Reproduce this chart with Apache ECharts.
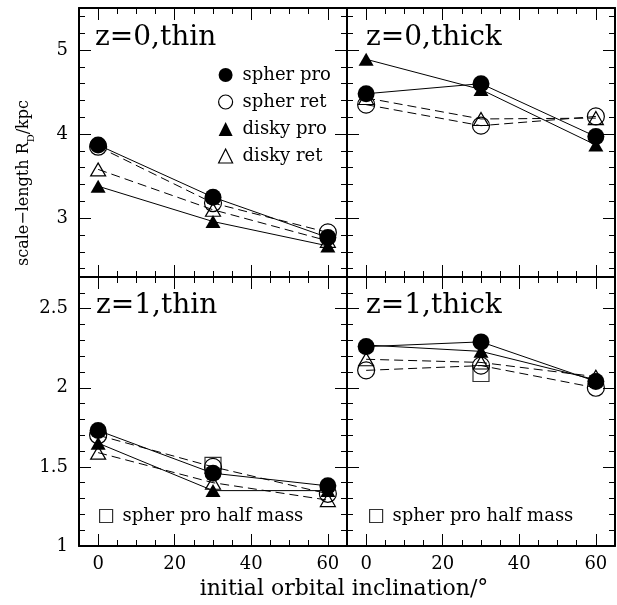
<!DOCTYPE html>
<html><head><meta charset="utf-8">
<script src="https://cdn.jsdelivr.net/npm/echarts@6/dist/echarts.min.js"></script>
<style>html,body{margin:0;padding:0;background:#fff}#c{width:617px;height:605px}</style>
</head><body><div id="c"></div>
<script>
// ---- data ----
const inclinations = [0, 30, 60];
const halfMassInclinations = [30];

const z0ThinSpherPro = [3.87, 3.25, 2.77];
const z0ThinSpherRet = [3.85, 3.18, 2.83];
const z0ThinDiskyPro = [3.38, 2.96, 2.67];
const z0ThinDiskyRet = [3.58, 3.10, 2.73];

const z0ThickSpherPro = [4.48, 4.60, 3.97];
const z0ThickSpherRet = [4.35, 4.10, 4.21];
const z0ThickDiskyPro = [4.89, 4.53, 3.87];
const z0ThickDiskyRet = [4.43, 4.18, 4.19];

const z1ThinSpherPro = [1.73, 1.46, 1.38];
const z1ThinSpherRet = [1.70, 1.50, 1.33];
const z1ThinDiskyPro = [1.65, 1.35, 1.35];
const z1ThinDiskyRet = [1.59, 1.40, 1.29];
const z1ThinHalfMass = [1.51];

const z1ThickSpherPro = [2.26, 2.29, 2.04];
const z1ThickSpherRet = [2.11, 2.14, 2.00];
const z1ThickDiskyPro = [2.27, 2.23, 2.05];
const z1ThickDiskyRet = [2.18, 2.16, 2.07];
const z1ThickHalfMass = [2.09];

const panelLabels = ['z=0,thin', 'z=0,thick', 'z=1,thin', 'z=1,thick'];
const xMajorTicks = [0, 20, 40, 60];
const xMinorTicks = [5, 10, 15, 25, 30, 35, 45, 50, 55];
const topYMajorTicks = [3, 4, 5];
const topYMinorTicks = [2.4, 2.6, 2.8, 3.2, 3.4, 3.6, 3.8, 4.2, 4.4, 4.6, 4.8, 5.2, 5.4];
const botYMajorTicks = [1, 1.5, 2, 2.5];
const botYMinorTicks = [1.1, 1.2, 1.3, 1.4, 1.6, 1.7, 1.8, 1.9, 2.1, 2.2, 2.3, 2.4, 2.6];

// ---- build ----
const FONT = 'DejaVu Serif';
const panels = [
  {grid:{left:79, top:8, width:268, height:269}, yMin:2.3, yMax:5.5, yMaj:topYMajorTicks, yMin2:topYMinorTicks, xLab:false, yLab:true,
   sets:[z0ThinSpherRet, z0ThinDiskyRet, z0ThinDiskyPro, z0ThinSpherPro], half:null, label:[95,38]},
  {grid:{left:347, top:8, width:268, height:269}, yMin:2.3, yMax:5.5, yMaj:topYMajorTicks, yMin2:topYMinorTicks, xLab:false, yLab:false,
   sets:[z0ThickSpherRet, z0ThickDiskyRet, z0ThickDiskyPro, z0ThickSpherPro], half:null, label:[366,38]},
  {grid:{left:79, top:277, width:268, height:269}, yMin:1, yMax:2.7, yMaj:botYMajorTicks, yMin2:botYMinorTicks, xLab:true, yLab:true,
   sets:[z1ThinSpherRet, z1ThinDiskyRet, z1ThinDiskyPro, z1ThinSpherPro], half:z1ThinHalfMass, label:[96,306]},
  {grid:{left:347, top:277, width:268, height:269}, yMin:1, yMax:2.7, yMaj:botYMajorTicks, yMin2:botYMinorTicks, xLab:true, yLab:false,
   sets:[z1ThickSpherRet, z1ThickDiskyRet, z1ThickDiskyPro, z1ThickSpherPro], half:z1ThickHalfMass, label:[366,306]}
];
const seriesDefs = [
  {name:'spher ret', symbol:'circle', size:17, filled:false, dashed:true},
  {name:'disky ret', symbol:'triangle', size:[15,13], filled:false, dashed:true},
  {name:'disky pro', symbol:'triangle', size:[15,13], filled:true, dashed:false},
  {name:'spher pro', symbol:'circle', size:17, filled:true, dashed:false}
];
const hollow = {color:'rgba(0,0,0,0)', borderColor:'#000', borderWidth:1.2};
const solid = {color:'#000', borderColor:'#000', borderWidth:0};

const grid = [], xAxis = [], yAxis = [], series = [], graphic = [];
panels.forEach((p, pi) => {
  grid.push(Object.assign({outerBoundsMode:'none', containLabel:false}, p.grid));
  ['bottom', 'top'].forEach(pos => {
    [true, false].forEach(major => {
      xAxis.push({
        type:'value', gridIndex:pi, position:pos, min:-5, max:65,
        axisLine:{show:major, onZero:false, lineStyle:{color:'#000', width:2}},
        axisTick:{show:true, inside:true, length:major?12:6, customValues:major?xMajorTicks:xMinorTicks, lineStyle:{color:'#000', width:1}},
        axisLabel:{show:major && pos==='bottom' && p.xLab, customValues:xMajorTicks, margin:9, color:'#000', fontFamily:FONT, fontSize:18},
        splitLine:{show:false}, minorTick:{show:false}
      });
    });
  });
  ['left', 'right'].forEach(pos => {
    [true, false].forEach(major => {
      yAxis.push({
        type:'value', gridIndex:pi, position:pos, min:p.yMin, max:p.yMax,
        axisLine:{show:major, onZero:false, lineStyle:{color:'#000', width:2}},
        axisTick:{show:true, inside:true, length:major?12:6, customValues:major?p.yMaj:p.yMin2, lineStyle:{color:'#000', width:1}},
        axisLabel:{show:major && pos==='left' && p.yLab, customValues:p.yMaj, margin:11, color:'#000', fontFamily:FONT, fontSize:18},
        splitLine:{show:false}, minorTick:{show:false}
      });
    });
  });
  const ax = pi * 4;
  seriesDefs.forEach((d, si) => {
    series.push({
      type:'line', name:d.name, xAxisIndex:ax, yAxisIndex:ax,
      data: inclinations.map((x, i) => [x, p.sets[si][i]]),
      symbol:d.symbol, symbolSize:d.size, showSymbol:true,
      lineStyle:{color:'#000', width:1, type:d.dashed ? [9,5] : 'solid'},
      itemStyle: d.filled ? solid : hollow,
      z: d.filled ? 4 : 3, emphasis:{disabled:true}, silent:true, animation:false
    });
  });
  if (p.half) {
    series.push({
      type:'scatter', name:'spher pro half mass', xAxisIndex:ax, yAxisIndex:ax,
      data: halfMassInclinations.map((x, i) => [x, p.half[i]]),
      symbol:'rect', symbolSize:16, itemStyle:hollow, z:2,
      emphasis:{disabled:true}, silent:true, animation:false
    });
  }
  graphic.push({type:'text', x:p.label[0], y:p.label[1], silent:true,
    style:{text:panelLabels[pi], fontSize:28, fontFamily:FONT, fill:'#000', align:'left', verticalAlign:'middle'}});
});

graphic.push({type:'text', x:344, y:589, silent:true,
  style:{text:'initial orbital inclination/°', fontSize:22, fontFamily:FONT, fill:'#000', align:'center', verticalAlign:'middle'}});
graphic.push({type:'text', x:24, y:183, rotation:Math.PI/2, silent:true,
  style:{text:'scale−length R{sub|D}/kpc', fontSize:16, fontFamily:FONT, fill:'#000', align:'center', verticalAlign:'middle', lineHeight:24,
    rich:{sub:{fontSize:10, fontFamily:FONT, fill:'#000', lineHeight:10, verticalAlign:'bottom'}}}});

const legTxt = {color:'#000', fontFamily:FONT, fontSize:18, padding:[0,0,0,5]};
const legend = [
  {orient:'vertical', left:213, top:61, itemWidth:14, itemHeight:14, itemGap:9, selectedMode:false, textStyle:legTxt,
   data:[
     {name:'spher pro', icon:'circle', itemStyle:solid},
     {name:'spher ret', icon:'circle', itemStyle:hollow},
     {name:'disky pro', icon:'triangle', itemStyle:solid},
     {name:'disky ret', icon:'triangle', itemStyle:hollow}
   ]},
  {left:94, top:502, itemWidth:13, itemHeight:13, selectedMode:false, textStyle:legTxt,
   data:[{name:'spher pro half mass', icon:'rect', itemStyle:hollow}]},
  {left:364, top:502, itemWidth:13, itemHeight:13, selectedMode:false, textStyle:legTxt,
   data:[{name:'spher pro half mass', icon:'rect', itemStyle:hollow}]}
];

const chart = echarts.init(document.getElementById('c'), null, {renderer:'canvas'});
chart.setOption({animation:false, backgroundColor:'#fff', grid, xAxis, yAxis, series, legend, graphic, tooltip:{show:false}});
</script></body></html>
